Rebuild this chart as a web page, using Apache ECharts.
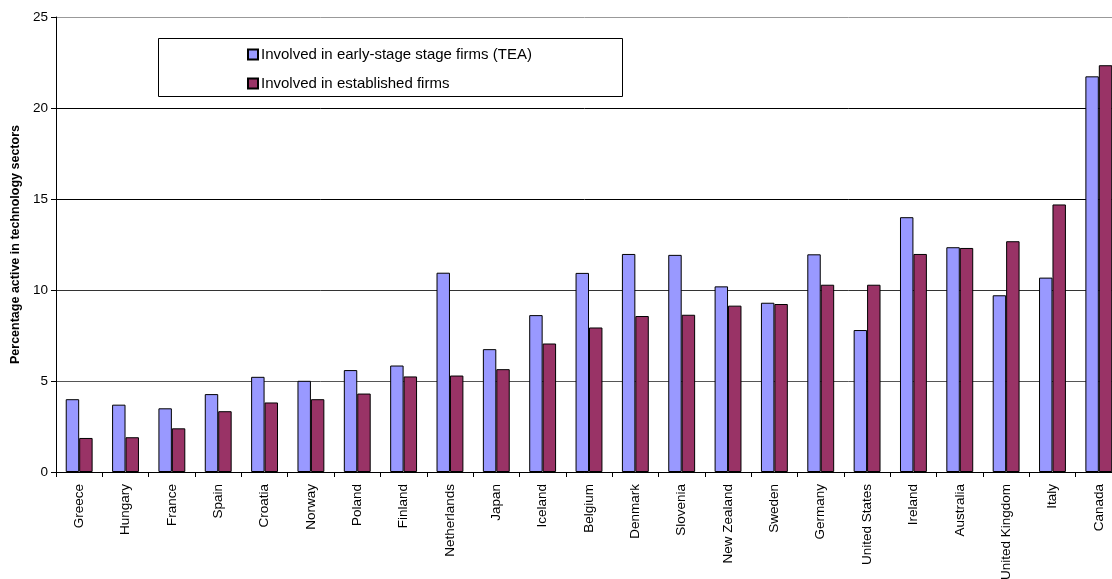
<!DOCTYPE html>
<html>
<head>
<meta charset="utf-8">
<script src="https://cdn.jsdelivr.net/npm/echarts@6/dist/echarts.min.js"></script>
<style>
  html, body { margin: 0; padding: 0; background: #fff; overflow: hidden; }
  #chart { width: 1112px; height: 579px; }
</style>
</head>
<body>
<div id="chart"></div>
<script>
// Countries, ordered by share of established-firm owners in tech sectors
const countries = ['Greece', 'Hungary', 'France', 'Spain', 'Croatia', 'Norway', 'Poland', 'Finland',
  'Netherlands', 'Japan', 'Iceland', 'Belgium', 'Denmark', 'Slovenia', 'New Zealand', 'Sweden',
  'Germany', 'United States', 'Ireland', 'Australia', 'United Kingdom', 'Italy', 'Canada'];

// Percentage active in technology sectors
const earlyStage = [4.0, 3.7, 3.5, 4.28, 5.23, 5.01, 5.6, 5.85, 10.95, 6.75, 8.62, 10.94, 11.98,
  11.93, 10.2, 9.3, 11.96, 7.8, 14.0, 12.35, 9.71, 10.68, 21.74];
const established = [1.87, 1.91, 2.4, 3.34, 3.82, 4.0, 4.31, 5.25, 5.3, 5.65, 7.06, 7.94, 8.57,
  8.64, 9.14, 9.23, 10.29, 10.29, 11.98, 12.31, 12.68, 14.7, 22.35];

const seriesNames = ['Involved in early-stage stage firms (TEA)', 'Involved in established firms'];
const yTicks = { min: 0, max: 25, interval: 5 };

const FONT = '"Liberation Sans", Arial, sans-serif';

const chart = echarts.init(document.getElementById('chart'), null, { renderer: 'canvas' });

chart.setOption({
  animation: false,
  backgroundColor: '#fff',
  // plot area runs slightly past the right edge of the canvas
  grid: { left: 56, width: 1066, top: 17, bottom: 107, containLabel: false, outerBoundsMode: 'none' },
  graphic: [{
    type: 'rect',
    shape: { x: 158.5, y: 38.5, width: 464, height: 58 },
    style: { fill: '#fff', stroke: '#000', lineWidth: 1 },
    z: 5
  }],
  legend: {
    orient: 'vertical',
    left: 247,
    top: 47,
    padding: 0,
    itemGap: 14,
    itemWidth: 10,
    itemHeight: 10,
    icon: 'rect',
    z: 10,
    textStyle: { fontFamily: FONT, fontSize: 15, color: '#000', padding: [0, 0, 0, -2] },
    data: seriesNames
  },
  xAxis: {
    type: 'category',
    data: countries,
    boundaryGap: true,
    axisLine: { lineStyle: { color: '#000', width: 1 } },
    axisTick: { show: true, alignWithLabel: false, length: 5, lineStyle: { color: '#000' } },
    axisLabel: {
      rotate: 90,
      interval: 0,
      margin: 12,
      fontFamily: FONT,
      fontSize: 13.5,
      color: '#000'
    },
    splitLine: { show: false }
  },
  yAxis: {
    type: 'value',
    min: yTicks.min,
    max: yTicks.max,
    interval: yTicks.interval,
    name: 'Percentage active in technology sectors',
    nameLocation: 'middle',
    nameRotate: 90,
    nameGap: 33,
    nameTextStyle: { fontFamily: FONT, fontSize: 12.5, fontWeight: 'bold', color: '#000' },
    axisLine: { show: true, lineStyle: { color: '#000', width: 1 } },
    axisTick: { show: true, length: 5, lineStyle: { color: '#000' } },
    axisLabel: { fontFamily: FONT, fontSize: 13.5, color: '#000', margin: 8 },
    splitLine: {
      show: true,
      lineStyle: { color: ['#000', '#555', '#333', '#000', '#000', '#999'], width: 1 }
    }
  },
  series: [
    {
      name: seriesNames[0],
      type: 'bar',
      data: earlyStage,
      barGap: '0%',
      barCategoryGap: '42%',
      itemStyle: { color: '#9999FF', borderColor: '#000', borderWidth: 1 }
    },
    {
      name: seriesNames[1],
      type: 'bar',
      data: established,
      barGap: '0%',
      barCategoryGap: '42%',
      itemStyle: { color: '#993366', borderColor: '#000', borderWidth: 1 }
    }
  ]
});
</script>
</body>
</html>
